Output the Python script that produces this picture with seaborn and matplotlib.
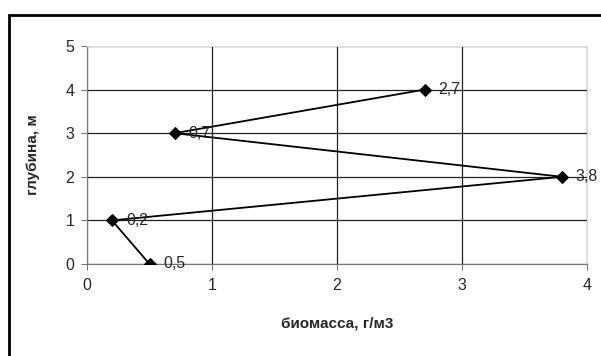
import matplotlib
matplotlib.use("Agg")
import pandas as pd
import matplotlib.pyplot as plt
import seaborn as sns
from matplotlib.patches import Rectangle

# данные
biomass = [0.5, 0.2, 3.8, 0.7, 2.7]
depth = [0, 1, 2, 3, 4]
labels = ["0,5", "0,2", "3,8", "0,7", "2,7"]

df = pd.DataFrame({"biomass": biomass, "depth": depth})

sns.set_style("white")
plt.rcParams["font.family"] = ["Liberation Sans", "DejaVu Sans"]

fig = plt.figure(figsize=(6.01, 3.56), dpi=100)
ax = fig.add_axes([87 / 601, 1 - 264 / 356, 500 / 601, 218 / 356])

sns.lineplot(data=df, x="biomass", y="depth", sort=False, color="black",
             linewidth=1.3, marker="D", markersize=6.5, markeredgecolor="black",
             ax=ax, zorder=3)

for x, y, t in zip(biomass, depth, labels):
    ax.annotate(t, (x, y), xytext=(10, 0), textcoords="offset points",
                va="center", ha="left", fontsize=11.5)

ax.set_xlim(0, 4)
ax.set_ylim(0, 5)
ax.set_xticks(range(0, 5))
ax.set_yticks(range(0, 6))
ax.grid(True, color="#222222", linewidth=0.9)
ax.tick_params(axis="both", length=4, color="#777777", labelsize=11.5,
               direction="out", bottom=True, left=True)
ax.tick_params(axis="x", pad=6)
ax.tick_params(axis="y", pad=5)
for s in ["left", "bottom"]:
    ax.spines[s].set_color("#777777")
for s in ["top", "right"]:
    ax.spines[s].set_color("#dddddd")

ax.set_xlabel("биомасса, г/м3", fontweight="bold", fontsize=11, labelpad=17)
ax.set_ylabel("глубина, м", fontweight="bold", fontsize=11, labelpad=18)

# рамка диаграммы
fig.patches.append(Rectangle((9 / 601, -0.1), 1.2, 1 - 15 / 356 + 0.1,
                             transform=fig.transFigure, fill=False,
                             edgecolor="black", linewidth=2))

plt.savefig("out.png", dpi=100)
